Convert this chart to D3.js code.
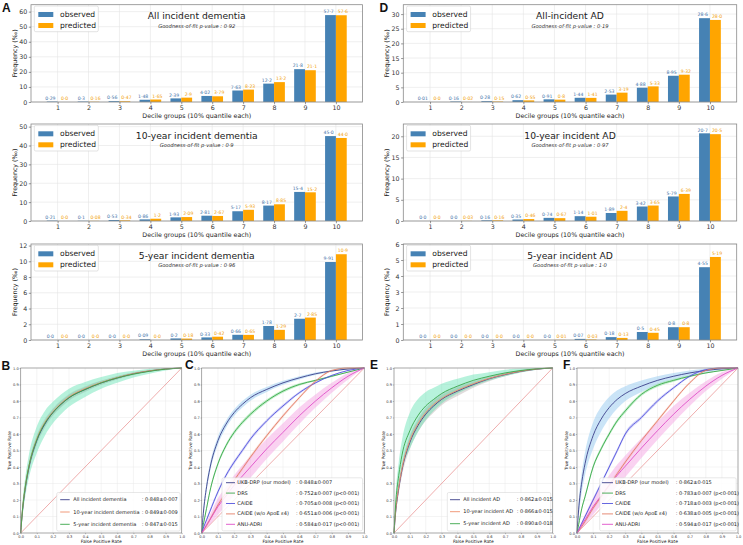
<!DOCTYPE html>
<html>
<head>
<meta charset="utf-8">
<script src="https://cdn.jsdelivr.net/npm/d3@7.9.0/dist/d3.min.js"></script>
<style>
  html, body { margin: 0; padding: 0; background: #fff; }
  svg { display: block; font-family: "DejaVu Sans", sans-serif; }
</style>
</head>
<body>
<svg id="fig" width="743" height="545"></svg>
<script>
// ---- decile calibration data (frequency, per mille) ----
const deciles = [1, 2, 3, 4, 5, 6, 7, 8, 9, 10];

const obsDemAll  = [0.29, 0.3, 0.56, 1.48, 2.39, 4.02, 7.63, 12.2, 21.8, 57.7];
const predDemAll = [0.0, 0.16, 0.47, 1.65, 2.9, 3.79, 8.23, 13.2, 21.1, 57.6];
const obsDem10   = [0.21, 0.1, 0.53, 0.86, 1.93, 2.81, 5.17, 8.17, 15.4, 45.0];
const predDem10  = [0.0, 0.08, 0.34, 1.2, 2.09, 2.67, 5.93, 8.85, 15.2, 44.0];
const obsDem5    = [0.0, 0.0, 0.0, 0.09, 0.2, 0.33, 0.66, 1.78, 2.7, 9.91];
const predDem5   = [0.0, 0.0, 0.0, 0.0, 0.18, 0.42, 0.65, 1.29, 2.85, 10.9];

const obsAdAll   = [0.01, 0.16, 0.28, 0.62, 0.91, 1.44, 2.53, 4.88, 8.95, 28.6];
const predAdAll  = [0.0, 0.02, 0.15, 0.55, 0.8, 1.41, 3.19, 5.33, 9.32, 28.0];
const obsAd10    = [0.0, 0.0, 0.16, 0.35, 0.74, 1.14, 1.89, 3.42, 5.79, 20.7];
const predAd10   = [0.0, 0.03, 0.16, 0.46, 0.67, 1.01, 2.4, 3.65, 6.39, 20.5];
const obsAd5     = [0.0, 0.0, 0.0, 0.0, 0.0, 0.07, 0.18, 0.5, 0.8, 4.55];
const predAd5    = [0.0, 0.0, 0.0, 0.0, 0.01, 0.03, 0.13, 0.45, 0.8, 5.19];

const demTitles = ["All incident dementia", "10-year incident dementia", "5-year incident dementia"];
const adTitles  = ["All-incident AD", "10-year incident AD", "5-year incident AD"];
const demPValues = ["0·92", "0·9", "0·96"];
const adPValues  = ["0·19", "0·97", "1·0"];
const demYMax = [64.6, 51.4, 12.2];
const adYMax  = [33.2, 22.9, 6.0];
const demYTicks = [[0, 10, 20, 30, 40, 50, 60], [0, 10, 20, 30, 40, 50], [0, 2, 4, 6, 8, 10, 12]];
const adYTicks  = [[0, 5, 10, 15, 20, 25, 30], [0, 5, 10, 15, 20], [0, 1, 2, 3, 4, 5, 6]];

// ---- ROC data (tpr read at the fpr grid) ----
const fprGrid = [0, 0.01, 0.03, 0.05, 0.1, 0.15, 0.2, 0.25, 0.3, 0.4, 0.5, 0.6, 0.7, 0.8, 0.9, 1.0];
const rocTicks = [0, 0.1, 0.2, 0.3, 0.4, 0.5, 0.6, 0.7, 0.8, 0.9, 1.0];

const tprDemAll = [0, 0.12, 0.28, 0.39, 0.56, 0.66, 0.73, 0.78, 0.82, 0.87, 0.91, 0.94, 0.965, 0.982, 0.994, 1];
const tprDem10  = [0, 0.13, 0.29, 0.40, 0.57, 0.67, 0.735, 0.785, 0.825, 0.875, 0.912, 0.942, 0.966, 0.983, 0.994, 1];
const tprDem5   = [0, 0.13, 0.29, 0.40, 0.565, 0.665, 0.73, 0.78, 0.82, 0.87, 0.91, 0.94, 0.963, 0.98, 0.993, 1];
const ciDem5    = [0, 0.04, 0.06, 0.07, 0.08, 0.075, 0.065, 0.06, 0.055, 0.045, 0.035, 0.03, 0.02, 0.015, 0.008, 0];
const ciNarrow  = [0, 0.02, 0.025, 0.025, 0.025, 0.022, 0.02, 0.02, 0.018, 0.015, 0.012, 0.01, 0.008, 0.005, 0.003, 0];

const tprDrsDem    = [0, 0.05, 0.15, 0.25, 0.42, 0.53, 0.61, 0.67, 0.72, 0.80, 0.86, 0.90, 0.925, 0.95, 0.975, 1];
const tprCaideDem  = [0, 0.03, 0.08, 0.13, 0.25, 0.35, 0.43, 0.50, 0.57, 0.68, 0.77, 0.85, 0.91, 0.955, 0.985, 1];
const tprCaideNoDem = [0, 0.015, 0.045, 0.08, 0.17, 0.245, 0.32, 0.39, 0.46, 0.59, 0.71, 0.82, 0.92, 0.985, 1, 1];
const tprAnuDem    = [0, 0.015, 0.05, 0.08, 0.16, 0.225, 0.29, 0.345, 0.40, 0.51, 0.61, 0.71, 0.80, 0.88, 0.95, 1];
const ciThin  = [0, 0.006, 0.01, 0.012, 0.012, 0.012, 0.012, 0.012, 0.012, 0.01, 0.01, 0.008, 0.006, 0.004, 0.002, 0];
const ciAnu   = [0, 0.01, 0.02, 0.03, 0.05, 0.055, 0.06, 0.065, 0.065, 0.06, 0.055, 0.05, 0.04, 0.03, 0.02, 0];

const tprAdAll = [0, 0.12, 0.27, 0.38, 0.55, 0.65, 0.72, 0.77, 0.81, 0.86, 0.90, 0.935, 0.96, 0.98, 0.993, 1];
const tprAd10  = [0, 0.13, 0.28, 0.39, 0.56, 0.66, 0.73, 0.78, 0.815, 0.865, 0.905, 0.937, 0.962, 0.981, 0.994, 1];
const tprAd5   = [0, 0.17, 0.35, 0.47, 0.62, 0.71, 0.77, 0.81, 0.845, 0.89, 0.925, 0.95, 0.97, 0.985, 0.995, 1];
const ciAd5    = [0, 0.05, 0.08, 0.09, 0.11, 0.1, 0.085, 0.07, 0.06, 0.045, 0.035, 0.025, 0.02, 0.012, 0.006, 0];
const ciAdAll  = [0, 0.02, 0.03, 0.035, 0.04, 0.04, 0.04, 0.04, 0.035, 0.03, 0.02, 0.015, 0.01, 0.006, 0.003, 0];
const ciUkbAd  = [0, 0.04, 0.06, 0.07, 0.08, 0.075, 0.065, 0.055, 0.045, 0.035, 0.025, 0.02, 0.015, 0.01, 0.005, 0];

const tprUkbAd     = [0, 0.14, 0.31, 0.42, 0.59, 0.69, 0.76, 0.81, 0.845, 0.89, 0.925, 0.95, 0.97, 0.985, 0.995, 1];
const tprDrsAd     = [0, 0.05, 0.15, 0.22, 0.40, 0.51, 0.60, 0.68, 0.74, 0.84, 0.895, 0.925, 0.95, 0.97, 0.985, 1];
const tprCaideAd   = [0, 0.02, 0.06, 0.10, 0.20, 0.30, 0.40, 0.50, 0.60, 0.70, 0.80, 0.88, 0.95, 0.99, 1, 1];
const tprCaideNoAd = [0, 0.012, 0.04, 0.07, 0.15, 0.22, 0.29, 0.36, 0.43, 0.56, 0.68, 0.80, 0.91, 0.985, 1, 1];
const tprAnuAd     = [0, 0.015, 0.05, 0.08, 0.16, 0.225, 0.29, 0.35, 0.405, 0.515, 0.62, 0.72, 0.81, 0.89, 0.955, 1];

const demHorizonNames = ["All incident dementia", "10-year incident dementia", "5-year incident dementia"];
const demHorizonAuc   = [": 0·848±0·007", ": 0·849±0·009", ": 0·847±0·015"];
const adHorizonNames  = ["All incident AD", "10-year incident AD", "5-year incident AD"];
const adHorizonAuc    = [": 0·862±0·015", ": 0·866±0·015", ": 0·890±0·018"];
const modelNames = ["UKB-DRP (our model)", "DRS", "CAIDE", "CAIDE (w/o ApoE ε4)", "ANU-ADRI"];
const demModelAuc = [": 0·848±0·007", ": 0·752±0·007 (p<0·001)", ": 0·705±0·008 (p<0·001)", ": 0·651±0·006 (p<0·001)", ": 0·584±0·017 (p<0·001)"];
const adModelAuc  = [": 0·862±0·015", ": 0·783±0·007 (p<0·001)", ": 0·718±0·003 (p<0·001)", ": 0·638±0·005 (p<0·001)", ": 0·594±0·017 (p<0·001)"];

// ---- colours ----
const cObs = "#4682b4", cPred = "#ffa500";
const cNavy = "#3c3f8a", cSalmon = "#ef8f6c", cGreen = "#3aa64a";
const cBlue = "#5353de", cRed = "#e37f68", cPink = "#e04fc8", cDiag = "#e88a8a";

const svg = d3.select("#fig");
const fmt = v => (Number.isInteger(v) ? v.toFixed(1) : String(v)).replace(".", "·");

function drawBarPanel(box, obs, pred, title, pval, yMax, yTicks) {
  const g = svg.append("g");
  const x = d3.scaleLinear().domain([0.14, 10.86]).range([box.left, box.right]);
  const y = d3.scaleLinear().domain([0, yMax]).range([box.bottom, box.top]);
  const w = 0.35;

  // grid
  g.append("g").selectAll("line").data(deciles).join("line")
    .attr("x1", d => x(d)).attr("x2", d => x(d))
    .attr("y1", box.top).attr("y2", box.bottom)
    .attr("stroke", "#e4e4e4").attr("stroke-width", 0.6);
  g.append("g").selectAll("line").data(yTicks).join("line")
    .attr("x1", box.left).attr("x2", box.right)
    .attr("y1", d => y(d)).attr("y2", d => y(d))
    .attr("stroke", "#e4e4e4").attr("stroke-width", 0.6);

  // bars
  g.append("g").selectAll("rect").data(obs).join("rect")
    .attr("x", (d, i) => x(deciles[i] - w)).attr("width", x(1 + w) - x(1))
    .attr("y", d => y(d)).attr("height", d => y(0) - y(d))
    .attr("fill", cObs);
  g.append("g").selectAll("rect").data(pred).join("rect")
    .attr("x", (d, i) => x(deciles[i])).attr("width", x(1 + w) - x(1))
    .attr("y", d => y(d)).attr("height", d => y(0) - y(d))
    .attr("fill", cPred);

  // value labels, nudged apart like the original
  g.append("g").selectAll("text").data(obs).join("text")
    .attr("x", (d, i) => x(deciles[i] - w / 2) - 1.8).attr("y", d => y(d) - 1.8)
    .attr("text-anchor", "middle").attr("font-size", 4.6).attr("fill", "#3f74aa")
    .text(fmt);
  g.append("g").selectAll("text").data(pred).join("text")
    .attr("x", (d, i) => x(deciles[i] + w / 2) + 1.6).attr("y", d => y(d) - 1.8)
    .attr("text-anchor", "middle").attr("font-size", 4.6).attr("fill", "#f2a20c")
    .text(fmt);

  // frame
  g.append("rect").attr("x", box.left).attr("y", box.top)
    .attr("width", box.right - box.left).attr("height", box.bottom - box.top)
    .attr("fill", "none").attr("stroke", "#8a8a8a").attr("stroke-width", 0.8);

  // axes
  const ax = g.append("g").attr("transform", `translate(0,${box.bottom})`)
    .call(d3.axisBottom(x).tickValues(deciles).tickFormat(d3.format("d")).tickSize(2.2).tickPadding(1.5));
  const ay = g.append("g").attr("transform", `translate(${box.left},0)`)
    .call(d3.axisLeft(y).tickValues(yTicks).tickFormat(d3.format("d")).tickSize(2.2).tickPadding(1.5));
  [ax, ay].forEach(a => {
    a.select(".domain").remove();
    a.selectAll("line").attr("stroke", "#555").attr("stroke-width", 0.6);
    a.selectAll("text").attr("font-size", 6.3).attr("fill", "#333")
      .attr("font-family", "DejaVu Sans");
  });

  g.append("text").attr("x", (box.left + box.right) / 2).attr("y", box.bottom + 16)
    .attr("text-anchor", "middle").attr("font-size", 6.3).attr("fill", "#222")
    .text("Decile groups (10% quantile each)");
  g.append("text")
    .attr("transform", `translate(${box.left - 14},${(box.top + box.bottom) / 2}) rotate(-90)`)
    .attr("text-anchor", "middle").attr("font-size", 6.3).attr("fill", "#222")
    .text("Frequency (‰)");

  // title
  const cx = (box.left + box.right) / 2;
  g.append("text").attr("x", cx).attr("y", box.top + 14.5)
    .attr("text-anchor", "middle").attr("font-size", 9.2).attr("fill", "#222").text(title);
  g.append("text").attr("x", cx).attr("y", box.top + 22.8)
    .attr("text-anchor", "middle").attr("font-size", 5.2).attr("font-style", "italic")
    .attr("fill", "#333").text(`Goodness-of-fit p-value : ${pval}`);

  // legend
  const lg = g.append("g").attr("transform", `translate(${box.left + 3.3},${box.top + 1.3})`);
  lg.append("rect").attr("width", 64).attr("height", 25.7).attr("rx", 1.5)
    .attr("fill", "#fff").attr("fill-opacity", 0.85).attr("stroke", "#d0d0d0").attr("stroke-width", 0.6);
  [["observed", cObs], ["predicted", cPred]].forEach(([label, c], i) => {
    lg.append("rect").attr("x", 4).attr("y", 6 + i * 11).attr("width", 15).attr("height", 5).attr("fill", c);
    lg.append("text").attr("x", 25.7).attr("y", 11 + i * 11).attr("font-size", 7.6)
      .attr("fill", "#222").text(label);
  });
}

function drawRocPanel(box, series, legend) {
  const g = svg.append("g");
  const x = d3.scaleLinear().domain([0, 1]).range([box.left, box.right]);
  const y = d3.scaleLinear().domain([0, 1]).range([box.bottom, box.top]);
  const clamp = v => Math.max(0, Math.min(1, v));

  g.append("g").selectAll("line").data(rocTicks).join("line")
    .attr("x1", d => x(d)).attr("x2", d => x(d)).attr("y1", box.top).attr("y2", box.bottom)
    .attr("stroke", "#e8e8e8").attr("stroke-width", 0.5);
  g.append("g").selectAll("line").data(rocTicks).join("line")
    .attr("x1", box.left).attr("x2", box.right).attr("y1", d => y(d)).attr("y2", d => y(d))
    .attr("stroke", "#e8e8e8").attr("stroke-width", 0.5);

  g.append("line").attr("x1", x(0)).attr("y1", y(0)).attr("x2", x(1)).attr("y2", y(1))
    .attr("stroke", cDiag).attr("stroke-width", 0.7);

  const area = d3.area().curve(d3.curveMonotoneX)
    .x((d, i) => x(fprGrid[i]))
    .y0(d => y(clamp(d[0] - d[1])))
    .y1(d => y(clamp(d[0] + d[1])));
  const line = d3.line().curve(d3.curveMonotoneX)
    .x((d, i) => x(fprGrid[i])).y(d => y(d));

  series.forEach(s => {
    g.append("path").datum(s.tpr.map((t, i) => [t, s.ci[i]]))
      .attr("d", area).attr("fill", s.band).attr("fill-opacity", s.bandOpacity);
  });
  series.forEach(s => {
    g.append("path").datum(s.tpr).attr("d", line)
      .attr("fill", "none").attr("stroke", s.color).attr("stroke-width", 0.9);
  });

  g.append("rect").attr("x", box.left).attr("y", box.top)
    .attr("width", box.right - box.left).attr("height", box.bottom - box.top)
    .attr("fill", "none").attr("stroke", "#8a8a8a").attr("stroke-width", 0.7);

  const ax = g.append("g").attr("transform", `translate(0,${box.bottom})`)
    .call(d3.axisBottom(x).tickValues(rocTicks).tickFormat(d3.format(".1f")).tickSize(1.2).tickPadding(0.8));
  const ay = g.append("g").attr("transform", `translate(${box.left},0)`)
    .call(d3.axisLeft(y).tickValues(rocTicks).tickFormat(d3.format(".1f")).tickSize(1.2).tickPadding(0.8));
  [ax, ay].forEach(a => {
    a.select(".domain").remove();
    a.selectAll("line").attr("stroke", "#666").attr("stroke-width", 0.4);
    a.selectAll("text").attr("font-size", 3.6).attr("fill", "#333").attr("font-family", "DejaVu Sans");
  });

  g.append("text").attr("x", (box.left + box.right) / 2).attr("y", box.bottom + 9.5)
    .attr("text-anchor", "middle").attr("font-size", 4.4).attr("fill", "#222").text("False Positive Rate");
  g.append("text")
    .attr("transform", `translate(${box.left - 9.5},${(box.top + box.bottom) / 2}) rotate(-90)`)
    .attr("text-anchor", "middle").attr("font-size", 4.4).attr("fill", "#222").text("True Positive Rate");

  // legend
  const lg = g.append("g").attr("transform", `translate(${legend.left},${legend.top})`);
  lg.append("rect").attr("width", legend.width).attr("height", legend.height).attr("rx", 1.5)
    .attr("fill", "#fff").attr("fill-opacity", 0.85).attr("stroke", "#d0d0d0").attr("stroke-width", 0.5);
  series.forEach((s, i) => {
    const yy = legend.first + i * legend.step;
    lg.append("line").attr("x1", legend.lineX[0]).attr("x2", legend.lineX[1])
      .attr("y1", yy - 1.6).attr("y2", yy - 1.6)
      .attr("stroke", s.color).attr("stroke-width", 0.9);
    lg.append("text").attr("x", legend.textX).attr("y", yy).attr("font-size", 5)
      .attr("fill", "#222").text(s.name);
    lg.append("text").attr("x", legend.colonX).attr("y", yy).attr("font-size", 5)
      .attr("fill", "#222").text(s.auc);
  });
}

// ---- bar panels ----
const barRows = [{ top: 4.7, bottom: 102 }, { top: 124, bottom: 221 }, { top: 244, bottom: 340 }];
const demSets = [[obsDemAll, predDemAll], [obsDem10, predDem10], [obsDem5, predDem5]];
const adSets = [[obsAdAll, predAdAll], [obsAd10, predAd10], [obsAd5, predAd5]];
barRows.forEach((r, i) => {
  drawBarPanel({ left: 31, right: 362.5, top: r.top, bottom: r.bottom },
    demSets[i][0], demSets[i][1], demTitles[i], demPValues[i], demYMax[i], demYTicks[i]);
  drawBarPanel({ left: 403.3, right: 736.7, top: r.top, bottom: r.bottom },
    adSets[i][0], adSets[i][1], adTitles[i], adPValues[i], adYMax[i], adYTicks[i]);
});

// ---- ROC panels ----
const mkHorizon = (names, auc, tprs, cis, bands, ops) => names.map((n, i) => ({
  name: n, auc: auc[i], tpr: tprs[i], ci: cis[i],
  color: [cNavy, cSalmon, cGreen][i], band: bands[i], bandOpacity: ops[i]
}));
const mkModels = (auc, tprs, cis) => modelNames.map((n, i) => ({
  name: n, auc: auc[i], tpr: tprs[i], ci: cis[i],
  color: [cNavy, cGreen, cBlue, cRed, cPink][i],
  band: ["#9fcdf0", "#8fe3a0", "#a9a9f2", "#f3b4a6", "#f6a6e4"][i],
  bandOpacity: [0.55, 0.55, 0.5, 0.5, 0.5][i]
}));

drawRocPanel({ left: 20.7, right: 181.7, top: 368, bottom: 533 },
  mkHorizon(demHorizonNames, demHorizonAuc, [tprDemAll, tprDem10, tprDem5],
    [ciNarrow, ciNarrow, ciDem5], ["#b3a8a8", "#c9a9a0", "#5fe3b2"], [0.4, 0.35, 0.45]),
  { left: 56.7, top: 492.5, width: 123.5, height: 38.5, first: 8.8, step: 12.3,
    lineX: [3.5, 13], textX: 16.6, colonX: 85 });

drawRocPanel({ left: 201.7, right: 364.3, top: 368, bottom: 533 },
  mkModels(demModelAuc, [tprDemAll, tprDrsDem, tprCaideDem, tprCaideNoDem, tprAnuDem],
    [ciNarrow, ciThin, ciThin, ciThin, ciAnu]),
  { left: 222, top: 477.8, width: 140.5, height: 53, first: 6.5, step: 10.4,
    lineX: [4, 13], textX: 15.3, colonX: 74 });

drawRocPanel({ left: 394, right: 552.7, top: 368, bottom: 533 },
  mkHorizon(adHorizonNames, adHorizonAuc, [tprAdAll, tprAd10, tprAd5],
    [ciAdAll, ciNarrow, ciAd5], ["#b3a8a8", "#c9a9a0", "#5fe3b2"], [0.4, 0.35, 0.45]),
  { left: 447.3, top: 492.5, width: 103.5, height: 38.5, first: 8.8, step: 12,
    lineX: [2.7, 12.7], textX: 16, colonX: 69.4 });

drawRocPanel({ left: 577, right: 738, top: 368, bottom: 533 },
  mkModels(adModelAuc, [tprUkbAd, tprDrsAd, tprCaideAd, tprCaideNoAd, tprAnuAd],
    [ciUkbAd, ciThin, ciThin, ciThin, ciAnu]),
  { left: 599.7, top: 477.8, width: 136.5, height: 53, first: 6.5, step: 10.4,
    lineX: [2.3, 13.3], textX: 15.6, colonX: 76 });

// ---- panel letters ----
[["A", 2, 11.5], ["D", 379.5, 11.5], ["B", 1.5, 369.5], ["C", 185, 368.5], ["E", 370, 369], ["F", 563, 368.5]]
  .forEach(([t, px, py]) => {
    svg.append("text").attr("x", px).attr("y", py)
      .attr("font-family", "Liberation Sans, Arial, sans-serif").attr("font-weight", "bold")
      .attr("font-size", 12).attr("fill", "#111").text(t);
  });
</script>
</body>
</html>
